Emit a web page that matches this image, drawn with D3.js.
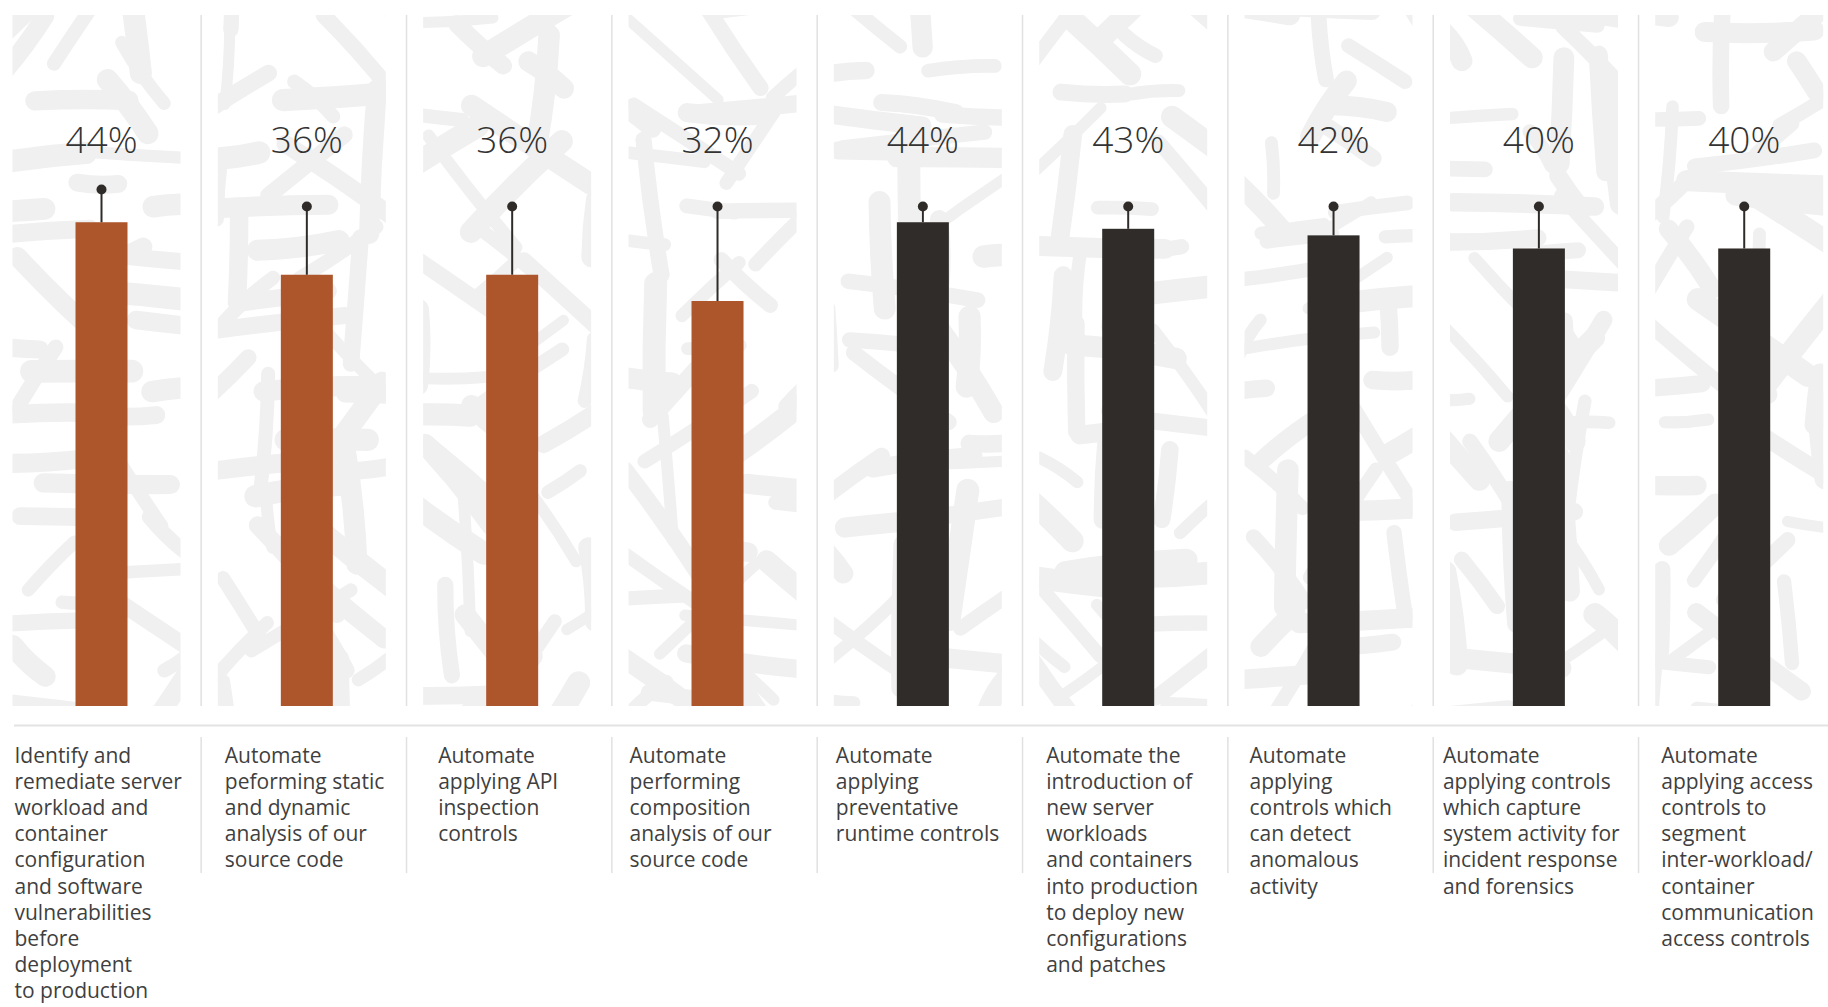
<!DOCTYPE html>
<html>
<head>
<meta charset="utf-8">
<script src="https://cdn.jsdelivr.net/npm/d3@7/dist/d3.min.js"></script>
<style>
  html, body { margin: 0; padding: 0; background: #ffffff; }
  svg { display: block; }
</style>
</head>
<body>
<svg id="chart" width="1828" height="1007"></svg>
<script>
// ---- Data ----------------------------------------------------------------
const categories = [
  ["Identify and", "remediate server", "workload and", "container", "configuration", "and software", "vulnerabilities", "before", "deployment", "to production"],
  ["Automate", "peforming static", "and dynamic", "analysis of our", "source code"],
  ["Automate", "applying API", "inspection", "controls"],
  ["Automate", "performing", "composition", "analysis of our", "source code"],
  ["Automate", "applying", "preventative", "runtime controls"],
  ["Automate the", "introduction of", "new server", "workloads", "and containers", "into production", "to deploy new", "configurations", "and patches"],
  ["Automate", "applying", "controls which", "can detect", "anomalous", "activity"],
  ["Automate", "applying controls", "which capture", "system activity for", "incident response", "and forensics"],
  ["Automate", "applying access", "controls to", "segment", "inter-workload/", "container", "communication", "access controls"]
];
const values = [44, 36, 36, 32, 44, 43, 42, 40, 40];
const whiskerTops = [49, 46.4, 46.4, 46.4, 46.4, 46.4, 46.4, 46.4, 46.4];
const groups = ["build", "build", "build", "build", "runtime", "runtime", "runtime", "runtime", "runtime"];
const valueLabels = values.map(v => v + "%");

// ---- Layout ----------------------------------------------------------------
const W = 1828, H = 1007;
const plotTop = 15, plotBottom = 706;
const barWidth = 52;
const ruleY = 725.5;
const labelTop = 763, lineHeight = 26.1;
const labelNudge = [-3, 2, 10, -4, -3, 2, 0, -12, 1];   // hand-set text indents per column

const colors = { build: "#ad562c", runtime: "#302c29" };
const ink = "#2f2b28";

const svg = d3.select("#chart");
const ids = categories.map((c, i) => "c" + i);

const step = 205.34;
const x = d3.scaleBand().domain(ids).range([-1.17, -1.17 + step * 9]).padding(0);
const y = d3.scaleLinear().domain([-29.7, 50]).range([plotBottom, plotBottom - 79.7 * 6.564]);
const cx = id => x(id) + x.bandwidth() / 2;

// ---- Brush-stroke backdrop per column ------------------------------------
function mulberry32(a) {
  return function () {
    a |= 0; a = a + 0x6D2B79F5 | 0;
    let t = Math.imul(a ^ a >>> 15, 1 | a);
    t = t + Math.imul(t ^ t >>> 7, 61 | t) ^ t;
    return ((t ^ t >>> 14) >>> 0) / 4294967296;
  };
}

const defs = svg.append("defs");
const backdrop = svg.append("g").attr("class", "backdrop");

ids.forEach((id, i) => {
  const left = cx(id) - 89, right = cx(id) + 79;
  defs.append("clipPath").attr("id", "clip-" + id)
    .append("rect").attr("x", left).attr("y", plotTop)
    .attr("width", right - left).attr("height", plotBottom - plotTop);

  const rnd = mulberry32(9173 + i * 7919);
  const g = backdrop.append("g").attr("clip-path", `url(#clip-${id})`);
  const strokes = [];
  // strokes are laid out in loose rows so the cover stays even
  const rows = 15;
  for (let row = 0; row <= rows; row++) {
    const yBase = plotTop + row * ((plotBottom - plotTop) / rows);
    const n = 2 + Math.floor(rnd() * 2);
    for (let k = 0; k < n; k++) {
      const x0 = left - 10 + (k + rnd()) * (right - left + 20) / n;
      const y0 = yBase + (rnd() - 0.5) * 34;
      const mode = rnd();
      let ang;
      if (mode < 0.35) ang = (rnd() - 0.5) * 0.3;                   // near horizontal
      else if (mode < 0.55) ang = Math.PI / 2 + (rnd() - 0.5) * 0.3; // near vertical
      else if (mode < 0.8) ang = Math.PI / 4 + (rnd() - 0.5) * 0.5;  // diagonal
      else ang = -Math.PI / 4 + (rnd() - 0.5) * 0.5;
      const len = 35 + rnd() * 110;
      const w = 11 + rnd() * 12;
      const dx = Math.cos(ang) * len / 2, dy = Math.sin(ang) * len / 2;
      const bend = (rnd() - 0.5) * 16;
      strokes.push({
        d: `M${x0 - dx},${y0 - dy} Q${x0 - dy * bend / len},${y0 + dx * bend / len} ${x0 + dx},${y0 + dy}`,
        w
      });
    }
  }
  g.selectAll("path").data(strokes).join("path")
    .attr("d", d => d.d)
    .attr("fill", "none")
    .attr("stroke", "#f0f0f0")
    .attr("stroke-width", d => d.w)
    .attr("stroke-linecap", "round");
});

// ---- Column separators ---------------------------------------------------
const sepIds = ids.slice(1);
const sepX = d => x(d) - 3;
svg.append("g").selectAll("line").data(sepIds).join("line")
  .attr("x1", sepX).attr("x2", sepX)
  .attr("y1", plotTop).attr("y2", plotBottom)
  .attr("stroke", "#e1e1e1").attr("stroke-width", 1.5);

svg.append("g").selectAll("line").data(sepIds).join("line")
  .attr("x1", sepX).attr("x2", sepX)
  .attr("y1", 737).attr("y2", 873)
  .attr("stroke", "#e1e1e1").attr("stroke-width", 1.5);

// horizontal rule between plot and labels
svg.append("line")
  .attr("x1", 14).attr("x2", W).attr("y1", ruleY).attr("y2", ruleY)
  .attr("stroke", "#e3e3e3").attr("stroke-width", 2);

// ---- Bars ------------------------------------------------------------------
svg.append("g").selectAll("rect").data(ids).join("rect")
  .attr("x", d => cx(d) - barWidth / 2)
  .attr("width", barWidth)
  .attr("y", (d, i) => y(values[i]))
  .attr("height", (d, i) => plotBottom - y(values[i]))
  .attr("fill", (d, i) => colors[groups[i]]);

// ---- Whiskers ------------------------------------------------------------
const wg = svg.append("g");
wg.selectAll("line").data(ids).join("line")
  .attr("x1", d => cx(d)).attr("x2", d => cx(d))
  .attr("y1", (d, i) => y(values[i]))
  .attr("y2", (d, i) => y(whiskerTops[i]))
  .attr("stroke", ink).attr("stroke-width", 2);
wg.selectAll("circle").data(ids).join("circle")
  .attr("cx", d => cx(d))
  .attr("cy", (d, i) => y(whiskerTops[i]))
  .attr("r", 5)
  .attr("fill", ink);

// ---- Value labels ----------------------------------------------------------
svg.append("g").selectAll("text").data(ids).join("text")
  .attr("x", d => cx(d))
  .attr("y", 153)
  .attr("text-anchor", "middle")
  .attr("font-family", "'Open Sans', sans-serif")
  .attr("font-weight", 300)
  .attr("font-size", 37)
  .attr("fill", "#333333")
  .text((d, i) => valueLabels[i]);

// ---- Category labels -------------------------------------------------------
const lg = svg.append("g")
  .attr("font-family", "'Open Sans', sans-serif")
  .attr("font-size", 21)
  .attr("fill", "#3f3f3f");
ids.forEach((id, i) => {
  const tx = cx(id) - 84 + labelNudge[i];
  const t = lg.append("text").attr("x", tx).attr("y", labelTop);
  t.selectAll("tspan").data(categories[i]).join("tspan")
    .attr("x", tx)
    .attr("y", (d, k) => labelTop + k * lineHeight)
    .text(d => d);
});
</script>
</body>
</html>
